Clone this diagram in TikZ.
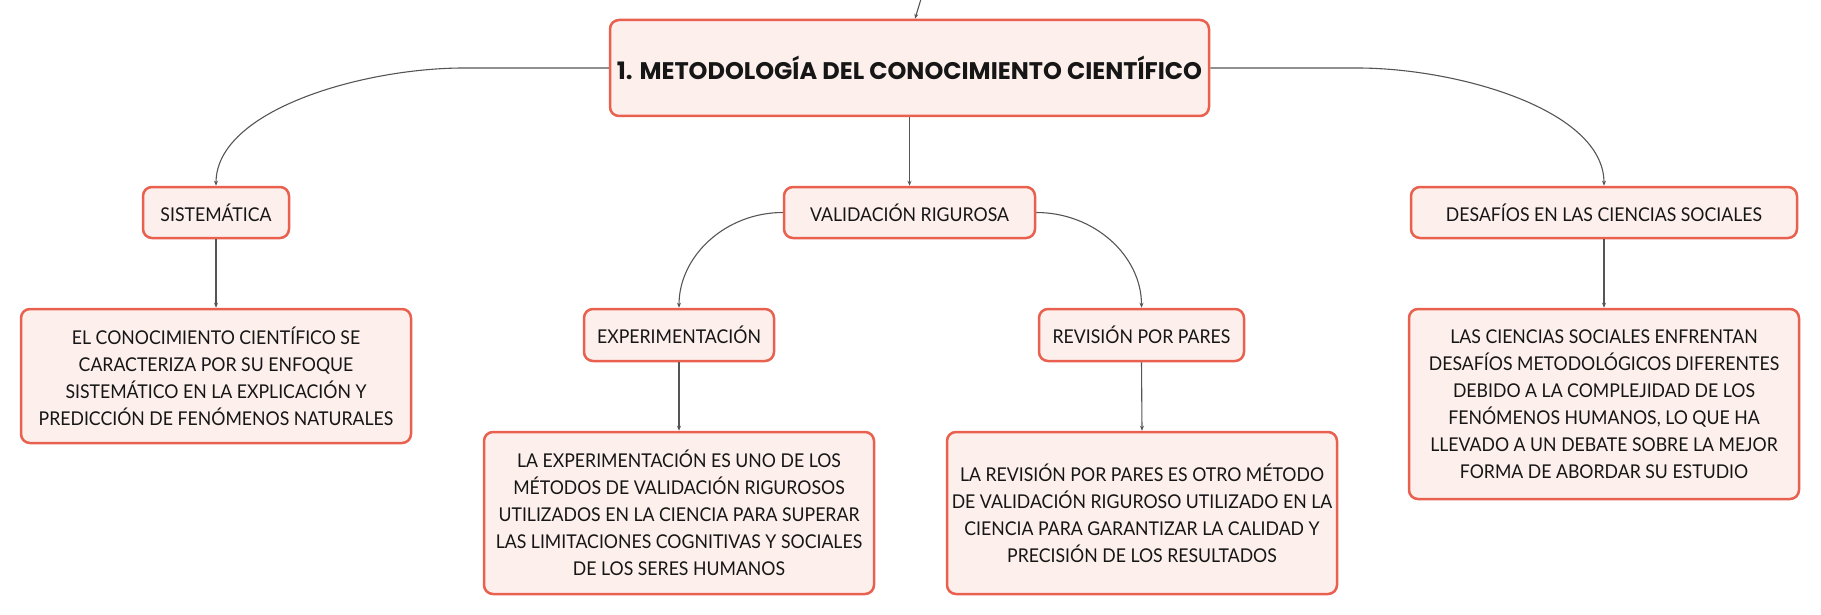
\documentclass[tikz,border=0pt]{standalone}
\usepackage{fontspec}
\setmainfont{Lato}[FakeStretch=0.93]
\newfontfamily\titlefont{Poppins}
\usetikzlibrary{arrows.meta,calc}
\definecolor{boxfill}{RGB}{253,240,236}
\definecolor{boxline}{RGB}{233,96,78}
\definecolor{conncol}{RGB}{85,85,85}
\definecolor{txt}{RGB}{22,22,22}
\tikzset{
  box/.style={draw=boxline, fill=boxfill, line width=2.5pt, rounded corners=9pt,
    inner sep=0pt, align=center, text=txt, font=\fontsize{19}{27}\selectfont},
  titlebox/.style={box, font=\titlefont\fontsize{24}{30}\selectfont\bfseries},
  conn/.style={draw=conncol, line width=1.1pt, -{Stealth[length=5pt,width=4pt]}}
}
\begin{document}
\begin{tikzpicture}[x=1pt,y=-1pt]
\useasboundingbox (0,0) rectangle (1821,615);
\node[titlebox, minimum width=599pt, minimum height=96pt] (main) at (909.5,68) {1. METODOLOGÍA DEL CONOCIMIENTO CIENTÍFICO};
\node[box, minimum width=146pt, minimum height=51pt] (sis) at (216,212.5) {SISTEMÁTICA};
\node[box, minimum width=251pt, minimum height=51pt] (val) at (909.5,212.5) {VALIDACIÓN RIGUROSA};
\node[box, minimum width=386pt, minimum height=51pt] (des) at (1604,212.5) {DESAFÍOS EN LAS CIENCIAS SOCIALES};
\node[box, minimum width=390pt, minimum height=134pt] (sisd) at (216,376) {EL CONOCIMIENTO CIENTÍFICO SE\\CARACTERIZA POR SU ENFOQUE\\SISTEMÁTICO EN LA EXPLICACIÓN Y\\PREDICCIÓN DE FENÓMENOS NATURALES};
\node[box, minimum width=190pt, minimum height=52pt] (exp) at (679,335) {EXPERIMENTACIÓN};
\node[box, minimum width=205pt, minimum height=52pt] (rev) at (1141.5,335) {REVISIÓN POR PARES};
\node[box, minimum width=390pt, minimum height=190pt] (desd) at (1604,404) {LAS CIENCIAS SOCIALES ENFRENTAN\\DESAFÍOS METODOLÓGICOS DIFERENTES\\DEBIDO A LA COMPLEJIDAD DE LOS\\FENÓMENOS HUMANOS, LO QUE HA\\LLEVADO A UN DEBATE SOBRE LA MEJOR\\FORMA DE ABORDAR SU ESTUDIO};
\node[box, minimum width=390pt, minimum height=162pt] (expd) at (679,513) {LA EXPERIMENTACIÓN ES UNO DE LOS\\MÉTODOS DE VALIDACIÓN RIGUROSOS\\UTILIZADOS EN LA CIENCIA PARA SUPERAR\\LAS LIMITACIONES COGNITIVAS Y SOCIALES\\DE LOS SERES HUMANOS};
\node[box, minimum width=390pt, minimum height=162pt] (revd) at (1142,513) {LA REVISIÓN POR PARES ES OTRO MÉTODO\\DE VALIDACIÓN RIGUROSO UTILIZADO EN LA\\CIENCIA PARA GARANTIZAR LA CALIDAD Y\\PRECISIÓN DE LOS RESULTADOS};
\coordinate (topin) at (921,-1);
\draw[conn] (topin) -- ([xshift=5.5pt]main.north);
\draw[conn] (main.west) -- ++(-145,0) .. controls +(-100,0) and +(0,-76) .. (sis.north);
\draw[conn] (main.east) -- ++(147,0) .. controls +(100,0) and +(0,-76) .. (des.north);
\draw[conn] (main.south) -- (val.north);
\draw[conn] (val.west) .. controls +(-57,0) and +(0,-52) .. (exp.north);
\draw[conn] (val.east) .. controls +(58,0) and +(0,-52) .. (rev.north);
\draw[conn] (sis.south) -- (sisd.north);
\draw[conn] (des.south) -- (desd.north);
\draw[conn] (exp.south) -- (expd.north);
\draw[conn] (rev.south) -- (revd.north);
\end{tikzpicture}
\end{document}
